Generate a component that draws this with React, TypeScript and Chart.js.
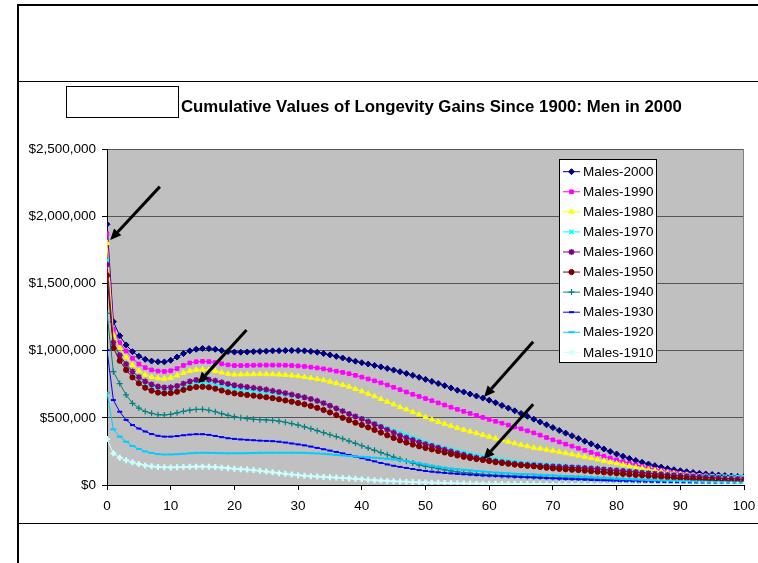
import React, { useEffect, useRef } from 'react';
import { Chart, registerables } from 'chart.js';
import { drawPoint } from 'chart.js/helpers';

Chart.register(...registerables);

// Age (x axis categories)
const AGES: number[] = Array.from({ length: 101 }, (_, i) => i);

// Values in thousands of dollars, one per age 0..100
const MALES_2000 = [
  1940, 1215, 1110, 1042, 992, 958, 935, 922, 917, 916,
  928, 952, 978, 998, 1010, 1016, 1015, 1010, 1001, 993,
  989, 988, 990, 992, 994, 996, 998, 999, 1000, 1001,
  1000, 998, 994, 988, 978, 968, 957, 945, 932, 921,
  910, 900, 890, 879, 867, 855, 843, 830, 816, 801,
  786, 771, 755, 739, 722, 705, 692, 677, 662, 647,
  631, 612, 592, 572, 552, 532, 511, 490, 469, 448,
  427, 406, 386, 366, 346, 326, 306, 287, 268, 249,
  231, 214, 198, 183, 169, 156, 144, 133, 123, 114,
  106, 99, 93, 87, 82, 78, 74, 70, 67, 64, 62,
];
const MALES_1990 = [
  1870, 1158, 1059, 997, 943, 900, 873, 856, 848, 845,
  850, 866, 890, 908, 917, 920, 918, 911, 902, 894,
  889, 889, 890, 891, 892, 892, 892, 892, 891, 889,
  886, 882, 877, 871, 864, 856, 847, 838, 828, 816,
  803, 789, 775, 760, 744, 727, 709, 692, 675, 659,
  643, 627, 611, 595, 579, 563, 548, 533, 518, 503,
  488, 474, 460, 446, 432, 418, 403, 388, 371, 353,
  336, 320, 304, 289, 273, 258, 243, 229, 214, 200,
  187, 174, 162, 150, 138, 127, 117, 108, 100, 93,
  87, 82, 77, 72, 68, 65, 62, 59, 57, 55, 54,
];
const MALES_1980 = [
  1800, 1116, 1017, 950, 893, 850, 821, 803, 794, 791,
  798, 815, 835, 849, 857, 860, 856, 848, 837, 827,
  822, 823, 824, 825, 825, 825, 824, 822, 819, 815,
  810, 803, 796, 789, 780, 769, 757, 744, 731, 714,
  697, 679, 660, 640, 620, 600, 580, 562, 543, 524,
  505, 487, 470, 455, 440, 425, 411, 398, 385, 372,
  359, 346, 334, 322, 310, 299, 288, 277, 271, 263,
  255, 246, 237, 228, 219, 210, 200, 190, 180, 170,
  161, 151, 142, 133, 124, 115, 107, 99, 92, 86,
  80, 75, 70, 66, 62, 59, 56, 54, 52, 51, 50,
];
const MALES_1970 = [
  1670, 1040, 950, 885, 830, 787, 755, 733, 718, 710,
  710, 718, 733, 748, 758, 762, 760, 752, 741, 730,
  720, 712, 706, 701, 696, 692, 688, 681, 674, 666,
  658, 649, 638, 624, 608, 590, 570, 549, 529, 511,
  494, 476, 458, 440, 422, 405, 389, 373, 355, 337,
  318, 300, 288, 276, 264, 252, 242, 232, 222, 212,
  202, 194, 187, 180, 173, 167, 163, 159, 155, 151,
  148, 145, 142, 139, 136, 133, 129, 125, 120, 116,
  112, 108, 104, 100, 96, 92, 88, 85, 81, 77,
  74, 72, 70, 68, 66, 65, 64, 63, 62, 62, 61,
];
const MALES_1960 = [
  1640, 1060, 965, 900, 845, 802, 771, 748, 733, 726,
  727, 737, 754, 771, 782, 786, 784, 776, 764, 752,
  742, 735, 729, 723, 717, 710, 701, 692, 683, 673,
  663, 652, 640, 626, 609, 590, 570, 549, 529, 510,
  492, 472, 452, 432, 412, 390, 368, 352, 335, 319,
  304, 291, 277, 263, 250, 237, 225, 214, 203, 193,
  184, 176, 170, 164, 158, 153, 150, 147, 144, 141,
  138, 136, 133, 131, 129, 126, 123, 120, 116, 112,
  108, 104, 100, 96, 92, 88, 84, 80, 76, 73,
  69, 66, 63, 60, 57, 54, 52, 49, 47, 45, 43,
];
const MALES_1950 = [
  1560, 1020, 925, 856, 801, 757, 724, 702, 688, 682,
  684, 694, 708, 721, 729, 731, 727, 717, 703, 690,
  682, 676, 670, 665, 659, 653, 646, 638, 629, 620,
  610, 600, 588, 574, 558, 540, 520, 500, 482, 464,
  447, 429, 410, 390, 370, 350, 332, 316, 301, 288,
  276, 265, 253, 242, 231, 220, 210, 201, 193, 186,
  178, 170, 164, 158, 152, 147, 143, 139, 134, 129,
  124, 120, 117, 114, 111, 107, 103, 99, 95, 91,
  87, 83, 79, 75, 72, 68, 65, 62, 58, 54,
  50, 47, 44, 41, 38, 35, 33, 31, 29, 27, 25,
];
const MALES_1940 = [
  1277, 843, 755, 670, 608, 572, 547, 533, 523, 521,
  526, 537, 548, 557, 562, 563, 556, 545, 531, 518,
  508, 501, 494, 489, 486, 484, 481, 475, 467, 457,
  446, 433, 419, 404, 389, 374, 360, 344, 327, 310,
  292, 275, 258, 241, 225, 208, 192, 177, 163, 150,
  140, 131, 122, 113, 105, 98, 93, 88, 84, 80,
  77, 74, 71, 69, 67, 65, 63, 61, 59, 57,
  55, 53, 52, 51, 50, 48, 46, 44, 42, 40,
  38, 36, 34, 32, 30, 28, 27, 25, 24, 22,
  21, 20, 19, 18, 17, 16, 15, 14, 13, 12, 12,
];
const MALES_1930 = [
  1004, 632, 545, 484, 446, 420, 398, 379, 366, 360,
  360, 364, 370, 375, 378, 378, 373, 365, 356, 348,
  343, 339, 336, 333, 330, 328, 326, 322, 316, 309,
  302, 295, 286, 276, 266, 256, 246, 235, 224, 212,
  200, 188, 176, 164, 153, 143, 135, 127, 119, 111,
  104, 99, 94, 90, 86, 83, 80, 77, 74, 71,
  69, 67, 65, 63, 61, 59, 57, 55, 53, 51,
  49, 47, 45, 43, 42, 40, 38, 36, 34, 32,
  30, 28, 27, 25, 24, 22, 21, 20, 19, 18,
  17, 16, 15, 14, 13, 12, 11, 10, 10, 9, 9,
];
const MALES_1920 = [
  687, 414, 360, 322, 290, 268, 250, 238, 230, 227,
  227, 229, 232, 236, 239, 240, 239, 238, 237, 236,
  236, 236, 237, 238, 239, 240, 240, 240, 240, 240,
  240, 239, 237, 235, 232, 228, 224, 220, 216, 213,
  210, 206, 203, 199, 195, 190, 185, 178, 170, 161,
  152, 143, 135, 128, 122, 117, 113, 109, 105, 101,
  97, 93, 90, 87, 84, 82, 80, 78, 76, 73,
  71, 69, 67, 65, 63, 61, 58, 56, 53, 51,
  48, 46, 44, 42, 40, 38, 36, 34, 32, 31,
  29, 28, 26, 25, 24, 23, 22, 21, 20, 19, 18,
];
const MALES_1910 = [
  342, 236, 203, 184, 169, 156, 146, 139, 134, 132,
  131, 132, 134, 135, 136, 136, 135, 133, 129, 125,
  121, 118, 115, 111, 106, 100, 94, 88, 83, 78,
  73, 69, 66, 63, 60, 57, 55, 52, 49, 46,
  43, 39, 36, 33, 30, 28, 26, 24, 22, 20,
  19, 17, 16, 15, 14, 13, 12, 11, 10, 9.5,
  9, 8.6, 8.2, 7.8, 7.5, 7.2, 6.9, 6.6, 6.3, 6.1,
  5.9, 5.7, 5.5, 5.3, 5.1, 4.9, 4.7, 4.6, 4.4, 4.3,
  4.1, 4.0, 3.9, 3.8, 3.7, 3.6, 3.5, 3.4, 3.3, 3.2,
  3.1, 3.0, 2.9, 2.8, 2.8, 2.7, 2.6, 2.6, 2.5, 2.5, 2.4,
];

const SERIES_NAMES = [
  'Males-2000', 'Males-1990', 'Males-1980', 'Males-1970', 'Males-1960',
  'Males-1950', 'Males-1940', 'Males-1930', 'Males-1920', 'Males-1910',
];
const SERIES_VALUES = [
  MALES_2000, MALES_1990, MALES_1980, MALES_1970, MALES_1960,
  MALES_1950, MALES_1940, MALES_1930, MALES_1920, MALES_1910,
];

const Y_TICKS = [0, 500000, 1000000, 1500000, 2000000, 2500000];
const X_TICKS = [0, 10, 20, 30, 40, 50, 60, 70, 80, 90, 100];

const TITLE = 'Cumulative Values of Longevity Gains Since 1900: Men in 2000';

// Annotation arrows (data coordinates: age, dollars)
const ARROW_TAIL_X = [8.3, 21.9, 66.9, 66.9];
const ARROW_TAIL_Y = [2220000, 1153000, 1066000, 600000];
const ARROW_TIP_X = [0.5, 14.3, 59.2, 59.1];
const ARROW_TIP_Y = [1823000, 757000, 655000, 191000];

const STYLES = [
  { color: '#000080', point: 'rectRot', r: 3, bw: 1 },
  { color: '#FF00FF', point: 'rect', r: 2.6, bw: 1 },
  { color: '#FFFF00', point: 'triangle', r: 3, bw: 1 },
  { color: '#00FFFF', point: 'crossRot', r: 3, bw: 1.5 },
  { color: '#800080', point: 'star', r: 3, bw: 1.5 },
  { color: '#800000', point: 'circle', r: 2.6, bw: 1 },
  { color: '#008080', point: 'cross', r: 3, bw: 1.2 },
  { color: '#0000FF', point: 'line', r: 2.5, bw: 2 },
  { color: '#00CCFF', point: 'line', r: 3, bw: 2 },
  { color: '#CCFFFF', point: 'cross', r: 3, bw: 2.2 },
];

const FONT = '"Liberation Sans", Arial, sans-serif';

function fmtDollar(v: number): string {
  return '$' + String(Math.round(v)).replace(/\B(?=(\d{3})+(?!\d))/g, ',');
}

const decorPlugin = {
  id: 'decor',
  beforeDraw(chart: any) {
    const { ctx, chartArea: a } = chart;
    ctx.save();
    ctx.fillStyle = '#ffffff';
    ctx.fillRect(0, 0, chart.width, chart.height);
    ctx.fillStyle = '#C0C0C0';
    ctx.fillRect(a.left, a.top, a.right - a.left, a.bottom - a.top);
    ctx.restore();
  },
  beforeDatasetsDraw(chart: any) {
    const { ctx, chartArea: a } = chart;
    ctx.save();
    ctx.strokeStyle = '#808080';
    ctx.lineWidth = 1;
    ctx.beginPath();
    ctx.moveTo(Math.round(a.right) - 0.5, a.top);
    ctx.lineTo(Math.round(a.right) - 0.5, a.bottom);
    ctx.stroke();
    ctx.restore();
  },
  afterDraw(chart: any) {
    const { ctx } = chart;
    const xs = chart.scales.x;
    const ys = chart.scales.y;
    ctx.save();

    // page frame
    ctx.fillStyle = '#000';
    ctx.fillRect(17, 4, 2, 559);
    ctx.fillRect(17, 4, 741, 2);
    ctx.fillRect(18, 81, 740, 1);
    ctx.fillRect(18, 523, 740, 1);

    // empty box left of title
    ctx.strokeStyle = '#000';
    ctx.lineWidth = 1;
    ctx.strokeRect(66.5, 86.5, 112, 31);

    // title
    ctx.fillStyle = '#000';
    ctx.font = `bold 16.8px ${FONT}`;
    ctx.textAlign = 'left';
    ctx.textBaseline = 'alphabetic';
    ctx.fillText(TITLE, 181, 112);

    // legend
    const lx = 559.5, ly = 159.5, lw = 97, lh = 203;
    ctx.fillStyle = '#fff';
    ctx.fillRect(lx, ly, lw, lh);
    ctx.strokeStyle = '#000';
    ctx.lineWidth = 1;
    ctx.strokeRect(lx, ly, lw, lh);
    ctx.font = `13.5px ${FONT}`;
    ctx.textBaseline = 'middle';
    chart.data.datasets.forEach((ds: any, i: number) => {
      const st = STYLES[i];
      const cy = 171.7 + i * 20.07;
      ctx.strokeStyle = st.color;
      ctx.fillStyle = st.color;
      ctx.lineWidth = 1;
      ctx.beginPath();
      ctx.moveTo(563, cy);
      ctx.lineTo(580, cy);
      ctx.stroke();
      ctx.lineWidth = st.bw;
      drawPoint(ctx, { pointStyle: st.point, rotation: 0, radius: st.r, borderWidth: st.bw } as any, 571.5, cy);
      ctx.fillStyle = '#000';
      ctx.fillText(ds.label, 583, cy + 0.5);
    });

    // arrows
    ctx.strokeStyle = '#000';
    ctx.fillStyle = '#000';
    for (let i = 0; i < ARROW_TIP_X.length; i++) {
      const x0 = xs.getPixelForValue(ARROW_TAIL_X[i]);
      const y0 = ys.getPixelForValue(ARROW_TAIL_Y[i]);
      const x1 = xs.getPixelForValue(ARROW_TIP_X[i]);
      const y1 = ys.getPixelForValue(ARROW_TIP_Y[i]);
      const ang = Math.atan2(y1 - y0, x1 - x0);
      const headLen = 11;
      const headW = 5;
      const bx = x1 - headLen * Math.cos(ang);
      const by = y1 - headLen * Math.sin(ang);
      ctx.lineWidth = 3;
      ctx.beginPath();
      ctx.moveTo(x0, y0);
      ctx.lineTo(bx, by);
      ctx.stroke();
      ctx.beginPath();
      ctx.moveTo(x1, y1);
      ctx.lineTo(bx + headW * Math.sin(ang), by - headW * Math.cos(ang));
      ctx.lineTo(bx - headW * Math.sin(ang), by + headW * Math.cos(ang));
      ctx.closePath();
      ctx.fill();
    }
    ctx.restore();
  },
};

export default function App() {
  const ref = useRef<HTMLCanvasElement | null>(null);

  useEffect(() => {
    if (!ref.current) return;
    const datasets = SERIES_NAMES.map((name, i) => {
      const st = STYLES[i];
      return {
        label: name,
        data: AGES.map((age, j) => ({ x: age, y: SERIES_VALUES[i][j] * 1000 })),
        borderColor: st.color,
        backgroundColor: st.color,
        borderWidth: 1,
        pointStyle: st.point,
        pointRadius: st.r,
        pointBorderWidth: st.bw,
        pointBackgroundColor: st.color,
        pointBorderColor: st.color,
        tension: 0,
        order: 9 - i,
      };
    });

    const chart = new Chart(ref.current, {
      type: 'line',
      data: { datasets } as any,
      plugins: [decorPlugin as any],
      options: {
        animation: false,
        responsive: false,
        devicePixelRatio: 1,
        layout: { padding: { top: 149, right: 14, bottom: 0, left: 0 } },
        plugins: {
          legend: { display: false },
          title: { display: false },
          tooltip: { enabled: false },
        },
        scales: {
          x: {
            type: 'linear',
            min: 0,
            max: 100,
            afterBuildTicks: (s: any) => { s.ticks = X_TICKS.map((v) => ({ value: v })); },
            afterFit: (s: any) => { s.height = 78; s.paddingLeft = 0; s.paddingRight = 0; },
            grid: { display: true, drawOnChartArea: false, drawTicks: true, tickLength: 5, tickColor: '#000' },
            border: { display: true, color: '#000', width: 1 },
            ticks: {
              color: '#000',
              font: { family: FONT, size: 13.5 },
              padding: 8,
              maxRotation: 0,
              autoSkip: false,
              callback: (v: any) => String(v),
            },
          },
          y: {
            type: 'linear',
            min: 0,
            max: 2500000,
            afterBuildTicks: (s: any) => { s.ticks = Y_TICKS.map((v) => ({ value: v })); },
            afterFit: (s: any) => { s.width = 107; s.paddingTop = 0; s.paddingBottom = 0; },
            grid: { color: '#555555', lineWidth: 1, drawTicks: true, tickLength: 5, tickColor: '#000' },
            border: { display: true, color: '#000', width: 1 },
            ticks: {
              color: '#000',
              font: { family: FONT, size: 13.5 },
              padding: 6,
              callback: (v: any) => fmtDollar(Number(v)),
            },
          },
        },
      } as any,
    });
    return () => chart.destroy();
  }, []);

  return (
    <div style={{ position: 'fixed', left: 0, top: 0, width: 758, height: 563, background: '#fff' }}>
      <canvas ref={ref} width={758} height={563} style={{ display: 'block', width: 758, height: 563 }} />
    </div>
  );
}
